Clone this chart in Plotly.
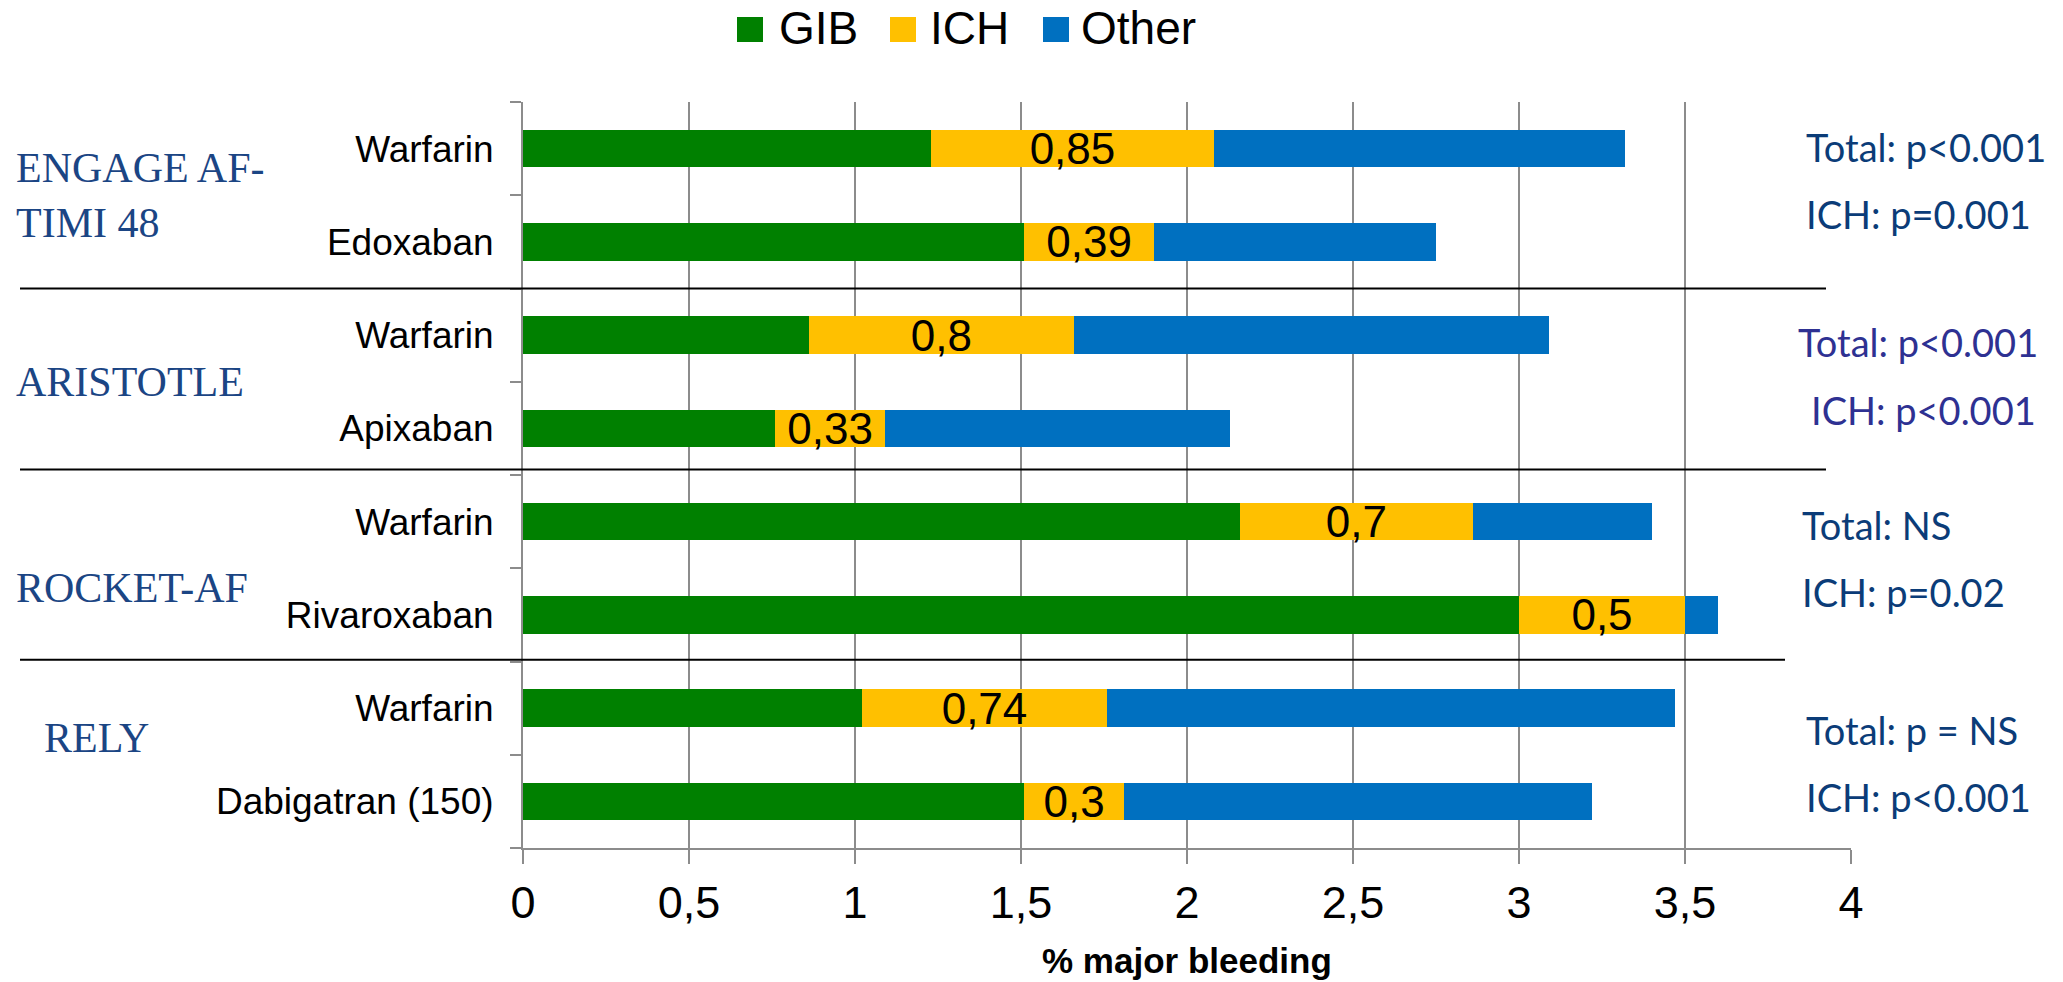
import plotly.graph_objects as go

# ---- data -------------------------------------------------------------
trials = ["ENGAGE AF-<br>TIMI 48", "ARISTOTLE", "ROCKET-AF", "RELY"]
arms = ["Warfarin", "Edoxaban", "Warfarin", "Apixaban",
        "Warfarin", "Rivaroxaban", "Warfarin", "Dabigatran (150)"]
gib = [1.23, 1.51, 0.86, 0.76, 2.16, 3.00, 1.02, 1.51]
ich = [0.85, 0.39, 0.80, 0.33, 0.70, 0.50, 0.74, 0.30]
other = [1.24, 0.85, 1.43, 1.04, 0.54, 0.10, 1.71, 1.41]
series_names = ["GIB", "ICH", "Other"]
stats = [("Total: p<0.001", "ICH: p=0.001"),
         ("Total: p<0.001", "ICH: p<0.001"),
         ("Total: NS", "ICH: p=0.02"),
         ("Total: p = NS", "ICH: p<0.001")]
x_ticks = [0, 0.5, 1, 1.5, 2, 2.5, 3, 3.5, 4]

# ---- styling ----------------------------------------------------------
W, H = 2063, 982
ML, MR, MT, MB = 523, 212, 102, 134
colors = {"GIB": "#008000", "ICH": "#FFC000", "Other": "#0070C0"}
GRID = "#8C8C8C"
SANS = "Liberation Sans, Arial, sans-serif"
SERIF = "Liberation Serif, Times New Roman, serif"
CALI = "Lato, Carlito, Calibri, sans-serif"
TRIAL_COLOR = "#1B4584"
STAT_COLORS = ["#0B3C78", "#2E3192", "#0B3C78", "#0B3C78"]

PW, PH = W - ML - MR, H - MT - MB


def px_x(px):
    return (px - ML) / PW


def px_y(py):
    return 1 - (py - MT) / PH


ypos = list(range(len(arms)))
fmt = lambda v: f"{v:g}".replace(".", ",")

fig = go.Figure()
for name, vals in zip(series_names, [gib, ich, other]):
    fig.add_trace(go.Bar(
        name=name, y=ypos, x=vals, orientation="h",
        marker=dict(color=colors[name], line=dict(width=0)),
        width=0.4,
        text=[fmt(v) for v in vals] if name == "ICH" else None,
        textposition="inside" if name == "ICH" else "none",
        insidetextanchor="middle",
        textangle=0,
        constraintext="none",
        textfont=dict(family=SANS, size=44, color="black"),
        showlegend=False,
        hoverinfo="x+name",
    ))

shapes = []
annotations = []

# group separators
sep_lines = [(1.5, 20, 1826), (3.44, 20, 1826), (5.48, 20, 1785)]
for yv, x0, x1 in sep_lines:
    shapes.append(dict(type="line", xref="paper", yref="y",
                       x0=px_x(x0), x1=px_x(x1), y0=yv, y1=yv,
                       line=dict(color="black", width=2), layer="above"))

# white panels behind the statistics text
for y0, y1 in [(113, 253), (310, 448), (492, 632), (697, 837)]:
    shapes.append(dict(type="rect", xref="paper", yref="paper",
                       x0=px_x(1838), x1=px_x(1864), y0=px_y(y1), y1=px_y(y0),
                       fillcolor="white", line=dict(width=0), layer="above"))

# trial names
trial_pos = [(14, 195), (14, 382), (14, 588), (42, 738)]
for txt, (x, y) in zip(trials, trial_pos):
    annotations.append(dict(text=txt, xref="paper", yref="paper",
                            x=px_x(x), y=px_y(y), xanchor="left", yanchor="middle",
                            align="left", showarrow=False,
                            font=dict(family=SERIF, size=42, color=TRIAL_COLOR)))

# statistics
stat_pos = [((1804, 147), (1804, 214)), ((1796, 342), (1809, 410)),
            ((1800, 525), (1800, 592)), ((1804, 730), (1804, 797))]
for (t1, t2), ((xa, ya), (xb, yb)), c in zip(stats, stat_pos, STAT_COLORS):
    for txt, x, y in [(t1, xa, ya), (t2, xb, yb)]:
        annotations.append(dict(text=txt, xref="paper", yref="paper",
                                x=px_x(x), y=px_y(y), xanchor="left", yanchor="middle",
                                showarrow=False,
                                font=dict(family=CALI, size=38, color=c)))

# legend
leg_pos = [(737, 777), (890, 928), (1043, 1079)]
for name, (sx, tx) in zip(series_names, leg_pos):
    shapes.append(dict(type="rect", xref="paper", yref="paper",
                       x0=px_x(sx), x1=px_x(sx + 26), y0=px_y(42), y1=px_y(17),
                       fillcolor=colors[name], line=dict(width=0)))
    annotations.append(dict(text=name, xref="paper", yref="paper",
                            x=px_x(tx), y=px_y(28), xanchor="left", yanchor="middle",
                            showarrow=False,
                            font=dict(family=SANS, size=46, color="black")))

# axis title
annotations.append(dict(text="<b>% major bleeding</b>", xref="paper", yref="paper",
                        x=0.5, y=px_y(960), xanchor="center", yanchor="middle",
                        showarrow=False,
                        font=dict(family=SANS, size=35, color="black")))

fig.update_layout(
    width=W, height=H,
    margin=dict(l=ML, r=MR, t=MT, b=MB, pad=0),
    paper_bgcolor="white", plot_bgcolor="white",
    barmode="stack",
    shapes=shapes, annotations=annotations,
    xaxis=dict(range=[0, 4], tickvals=x_ticks, ticktext=[fmt(v) for v in x_ticks],
               showgrid=True, gridcolor=GRID, gridwidth=1.5,
               showline=True, linecolor=GRID, linewidth=2,
               ticks="outside", ticklen=14, tickcolor=GRID, tickwidth=1.5,
               tickfont=dict(family=SANS, size=45, color="black"),
               zeroline=False, fixedrange=True),
    yaxis=dict(range=[len(arms) - 0.5, -0.5], tickvals=ypos, ticktext=arms,
               showgrid=False, zeroline=False,
               showline=True, linecolor=GRID, linewidth=2,
               ticks="", ticklabelstandoff=20,
               tickfont=dict(family=SANS, size=37, color="black"),
               minor=dict(tickmode="array",
                          tickvals=[i - 0.5 for i in range(len(arms) + 1)],
                          ticks="outside", ticklen=11, tickcolor=GRID, tickwidth=1.5,
                          showgrid=False),
               fixedrange=True),
)

fig.write_html("out.html")
